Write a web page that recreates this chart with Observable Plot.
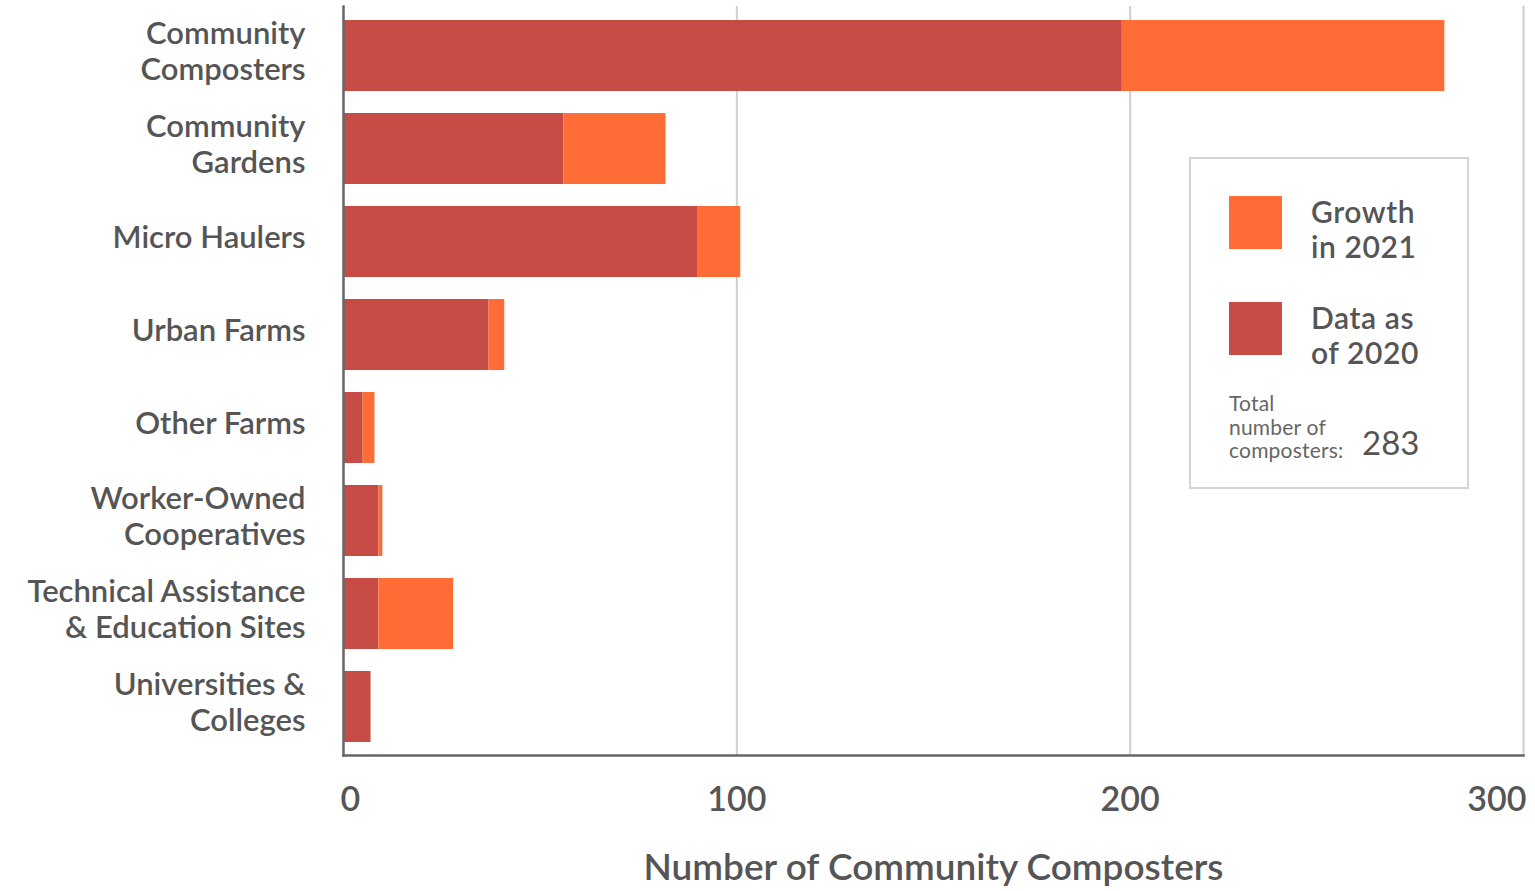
<!DOCTYPE html>
<html>
<head>
<meta charset="utf-8">
<script src="https://cdn.jsdelivr.net/npm/d3@7"></script>
<script src="https://cdn.jsdelivr.net/npm/@observablehq/plot@0.6"></script>
<style>
  html, body { margin: 0; padding: 0; background: #fff; }
  #wrap { position: relative; width: 1535px; height: 891px; font-family: Lato, "Open Sans", sans-serif; color: #555; }
  #legend { position: absolute; left: 1189px; top: 157px; width: 276px; height: 328px; border: 2px solid #d4d4d4; box-sizing: content-box; }
  .sw { position: absolute; left: 38px; width: 53px; height: 53px; }
  .lt { position: absolute; left: 120px; font-size: 30px; line-height: 35px; font-weight: 600; color: #555; letter-spacing: 0.6px; }
  .tt { position: absolute; left: 38px; top: 232px; font-size: 21px; line-height: 23.5px; color: #666; letter-spacing: 0.2px; }
  .tn { position: absolute; left: 171px; top: 263px; font-size: 33px; color: #555; }
</style>
</head>
<body>
<div id="wrap">
  <div id="chart"></div>
  <div id="legend"></div>
</div>
<script>
const categories = [
  "Community\nComposters",
  "Community\nGardens",
  "Micro Haulers",
  "Urban Farms",
  "Other Farms",
  "Worker-Owned\nCooperatives",
  "Technical Assistance\n& Education Sites",
  "Universities &\nColleges"
];
const data2020   = [198, 56, 90, 37, 5, 9, 9, 7];
const growth2021 = [82, 26, 11, 4, 3, 1, 19, 0];
const seriesNames = ["Data as of 2020", "Growth in 2021"];
const seriesColors = ["#c84c46", "#ff6c35"];
const xTicks = [0, 100, 200, 300];
const totalComposters = 283;
const xLabel = "Number of Community Composters";

const rows = [];
categories.forEach((c, i) => {
  rows.push({cat: c, series: seriesNames[0], value: data2020[i]});
  rows.push({cat: c, series: seriesNames[1], value: growth2021[i]});
});

const font = "Lato, 'Open Sans', sans-serif";

const chart = Plot.plot({
  width: 1535,
  height: 891,
  marginTop: 6,
  marginLeft: 343,
  marginRight: 12,
  marginBottom: 136,
  style: {fontFamily: font, color: "#555", background: "#fff"},
  x: {domain: [0, 300]},
  y: {domain: categories, paddingInner: 0.24, paddingOuter: 0.14},
  color: {domain: seriesNames, range: seriesColors},
  marks: [
    Plot.gridX({ticks: [xTicks[1], xTicks[2], xTicks[3]], stroke: "#cfcfcf", strokeOpacity: 1, strokeWidth: 2}),
    Plot.barX(rows, {y: "cat", x: "value", fill: "series", order: seriesNames}),
    Plot.frame({anchor: "left", stroke: "#666", strokeWidth: 2.5}),
    Plot.frame({anchor: "bottom", stroke: "#666", strokeWidth: 2.5}),
    Plot.axisY({tickSize: 0, tickPadding: 38, fontSize: 31, fontWeight: 600, lineHeight: 1.16, dy: -6, label: null, fill: "#555"}),
    Plot.axisX({ticks: [xTicks[0]], tickSize: 0, tickPadding: 31, fontSize: 34, fontWeight: 600, textAnchor: "start", dx: -3, label: null, fill: "#555"}),
    Plot.axisX({ticks: [xTicks[1], xTicks[2]], tickSize: 0, tickPadding: 31, fontSize: 34, fontWeight: 600, label: null, fill: "#555"}),
    Plot.axisX({ticks: [xTicks[3]], tickSize: 0, tickPadding: 31, fontSize: 34, fontWeight: 600, textAnchor: "end", dx: 3, label: null, fill: "#555"}),
    Plot.text([xLabel], {frameAnchor: "bottom", dy: 124, text: d => d, fontSize: 37, fontWeight: 600, fill: "#555"})
  ]
});
document.getElementById("chart").appendChild(chart);

const legend = document.getElementById("legend");
legend.innerHTML = `
  <div class="sw" style="top:37px;background:${seriesColors[1]}"></div>
  <div class="lt" style="top:35px">Growth<br>in 2021</div>
  <div class="sw" style="top:143px;background:${seriesColors[0]}"></div>
  <div class="lt" style="top:141px">Data as<br>of 2020</div>
  <div class="tt">Total<br>number of<br>composters:</div>
  <div class="tn">${totalComposters}</div>
`;
</script>
</body>
</html>
